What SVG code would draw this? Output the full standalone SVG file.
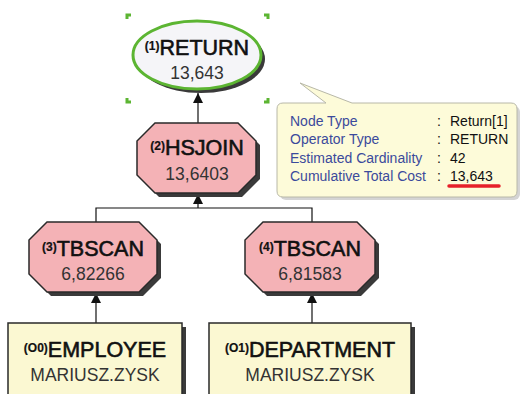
<svg xmlns="http://www.w3.org/2000/svg" width="520" height="394" viewBox="0 0 520 394">
  <defs>
    <marker id="arrow" viewBox="0 0 10 10" refX="10" refY="5" markerWidth="10" markerHeight="10" markerUnits="userSpaceOnUse" orient="auto">
      <path d="M0,0 L10,5 L0,10 Z" fill="#111"/>
    </marker>
    <style>
      .shadow { fill: #3a3a3a; }
      .op { fill: #f4b2b6; stroke: #2a2a2a; stroke-width: 1.5; }
      .tbl { fill: #fbf8d2; stroke: #2a2a2a; stroke-width: 1.5; }
      .title { font-family: "Liberation Sans", Arial, sans-serif; font-size: 21.5px; fill: #111; stroke: #111; stroke-width: 0.6; text-anchor: middle; }
      .num { font-size: 12px; font-weight: bold; stroke-width: 0.2; }
      .sub { font-family: "Liberation Sans", Arial, sans-serif; font-size: 17.5px; fill: #333; text-anchor: middle; }
      .edge { fill: none; stroke: #111; stroke-width: 1.2; }
      .handle { fill: none; stroke: #5cb532; stroke-width: 3; }
      .tipk { font-family: "Liberation Sans", Arial, sans-serif; font-size: 14px; fill: #3b4a9c; }
      .tipv { font-family: "Liberation Sans", Arial, sans-serif; font-size: 14px; fill: #111; }
    </style>
  </defs>

  <rect width="520" height="394" fill="#ffffff"/>

  <!-- connectors -->
  <g id="connectors">
    <path class="edge" d="M198,123 L198,93" marker-end="url(#arrow)"/>
    <path class="edge" d="M96,222 L96,208 L312,208 L312,222"/>
    <path class="edge" d="M198,208 L198,194" marker-end="url(#arrow)"/>
    <path class="edge" d="M96,323 L96,293" marker-end="url(#arrow)"/>
    <path class="edge" d="M312,323 L312,293" marker-end="url(#arrow)"/>
  </g>

  <!-- (1) RETURN, selected -->
  <g id="node-return">
    <ellipse cx="201" cy="59" rx="64" ry="34" class="shadow"/>
    <ellipse cx="197" cy="55" rx="64" ry="34" fill="#f5f5f8" stroke="#5cb532" stroke-width="3"/>
    <text class="title" x="197" y="55"><tspan class="num" dy="-5">(1)</tspan><tspan dy="5">RETURN</tspan></text>
    <text class="sub" x="197" y="79">13,643</text>
    <path class="handle" d="M127,19 L127,15 L131,15"/>
    <path class="handle" d="M264,15 L268,15 L268,19"/>
    <path class="handle" d="M127,98 L127,102 L131,102"/>
    <path class="handle" d="M264,102 L268,102 L268,98"/>
  </g>

  <!-- (2) HSJOIN -->
  <g id="node-hsjoin">
    <polygon class="shadow" points="159,127 242,127 260,145 260,179 242,197 159,197 141,179 141,145"/>
    <polygon class="op" points="155,123 238,123 256,141 256,175 238,193 155,193 137,175 137,141"/>
    <text class="title" x="197" y="155"><tspan class="num" dy="-5">(2)</tspan><tspan dy="5">HSJOIN</tspan></text>
    <text class="sub" x="197" y="180">13,6403</text>
  </g>

  <!-- (3) TBSCAN -->
  <g id="node-tbscan3">
    <polygon class="shadow" points="51,226 143,226 161,244 161,278 143,296 51,296 33,278 33,244"/>
    <polygon class="op" points="47,222 139,222 157,240 157,274 139,292 47,292 29,274 29,240"/>
    <text class="title" x="93" y="256"><tspan class="num" dy="-5">(3)</tspan><tspan dy="5">TBSCAN</tspan></text>
    <text class="sub" x="93" y="280">6,82266</text>
  </g>

  <!-- (4) TBSCAN -->
  <g id="node-tbscan4">
    <polygon class="shadow" points="267,226 361,226 379,244 379,278 361,296 267,296 249,278 249,244"/>
    <polygon class="op" points="263,222 357,222 375,240 375,274 357,292 263,292 245,274 245,240"/>
    <text class="title" x="310" y="256"><tspan class="num" dy="-5">(4)</tspan><tspan dy="5">TBSCAN</tspan></text>
    <text class="sub" x="310" y="280">6,81583</text>
  </g>

  <!-- (O0) EMPLOYEE table -->
  <g id="node-employee">
    <rect class="shadow" x="12" y="327" width="174" height="80"/>
    <rect class="tbl" x="8" y="323" width="174" height="80"/>
    <text class="title" x="95" y="357"><tspan class="num" dy="-5">(O0)</tspan><tspan dy="5">EMPLOYEE</tspan></text>
    <text class="sub" x="95" y="381">MARIUSZ.ZYSK</text>
  </g>

  <!-- (O1) DEPARTMENT table -->
  <g id="node-department">
    <rect class="shadow" x="213" y="327" width="202" height="80"/>
    <rect class="tbl" x="209" y="323" width="202" height="80"/>
    <text class="title" x="310" y="357"><tspan class="num" dy="-5">(O1)</tspan><tspan dy="5">DEPARTMENT</tspan></text>
    <text class="sub" x="310" y="381">MARIUSZ.ZYSK</text>
  </g>

  <!-- property tooltip for the RETURN operator -->
  <g id="tooltip">
    <rect x="280" y="106" width="240" height="94" rx="6" fill="#d4d4d4"/>
    <path d="M283,103 L326,103 L300,83 L352,103 L511,103 Q517,103 517,109 L517,191 Q517,197 511,197 L283,197 Q277,197 277,191 L277,109 Q277,103 283,103 Z" fill="#fdfbd9" stroke="#b8b8a8" stroke-width="1"/>
    <text class="tipk" x="290" y="126">Node Type</text>
    <text class="tipk" x="290" y="144">Operator Type</text>
    <text class="tipk" x="290" y="163">Estimated Cardinality</text>
    <text class="tipk" x="290" y="181">Cumulative Total Cost</text>
    <text class="tipv" x="437" y="126">:</text>
    <text class="tipv" x="437" y="144">:</text>
    <text class="tipv" x="437" y="163">:</text>
    <text class="tipv" x="437" y="181">:</text>
    <text class="tipv" x="450" y="126">Return[1]</text>
    <text class="tipv" x="450" y="144">RETURN</text>
    <text class="tipv" x="450" y="163">42</text>
    <text class="tipv" x="450" y="181">13,643</text>
    <line x1="449" y1="186" x2="499" y2="186" stroke="#e6202a" stroke-width="3.5" stroke-linecap="round"/>
  </g>
</svg>
